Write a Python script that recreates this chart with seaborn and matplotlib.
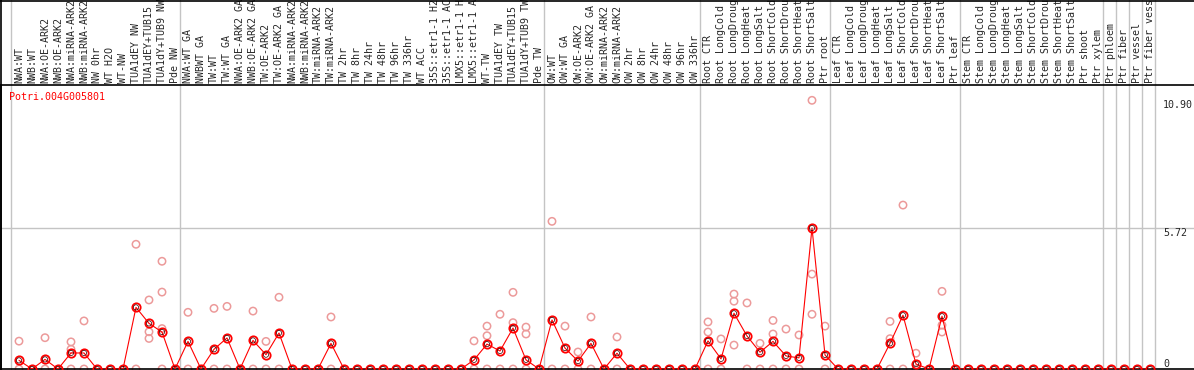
import seaborn as sns
import matplotlib.pyplot as plt
import matplotlib.lines as mlines
import matplotlib.transforms as mtransforms
import pandas as pd
import numpy as np

# sample labels as shown (cut to 14 characters like the source page)
labels = [
    'NWA:WT', 'NWB:WT', 'NWA:OE-ARK2', 'NWB:OE-ARK2', 'NWA:miRNA-ARK2', 'NWB:miRNA-ARK2',
    'NW 0hr', 'WT H2O', 'WT-NW', 'TUA1dEY NW', 'TUA1dEY+TUB15', 'TUA1dY+TUB9 NW', 'Pde NW',
    'NWA:WT GA', 'NWBWT GA', 'TW:WT', 'TW:WT GA', 'NWA:OE-ARK2 GA', 'NWB:OE-ARK2 GA',
    'TW:OE-ARK2', 'TW:OE-ARK2 GA', 'NWA:miRNA-ARK2', 'NWB:miRNA-ARK2', 'TW:miRNA-ARK2',
    'TW:miRNA-ARK2', 'TW 2hr', 'TW 8hr', 'TW 24hr', 'TW 48hr', 'TW 96hr', 'TW 336hr',
    'WT ACC', '35S::etr1-1 H2', '35S::etr1-1 AC', 'LMX5::etr1-1 H', 'LMX5::etr1-1 A',
    'WT-TW', 'TUA1dEY TW', 'TUA1dEY+TUB15', 'TUA1dY+TUB9 TW', 'Pde TW',
    'OW:WT', 'OW:WT GA', 'OW:OE-ARK2', 'OW:OE-ARK2 GA', 'OW:miRNA-ARK2', 'OW:miRNA-ARK2',
    'OW 2hr', 'OW 8hr', 'OW 24hr', 'OW 48hr', 'OW 96hr', 'OW 336hr',
    'Root CTR', 'Root LongCold', 'Root LongDroug', 'Root LongHeat', 'Root LongSalt',
    'Root ShortCold', 'Root ShortDrou', 'Root ShortHeat', 'Root ShortSalt', 'Ptr root',
    'Leaf CTR', 'Leaf LongCold', 'Leaf LongDroug', 'Leaf LongHeat', 'Leaf LongSalt',
    'Leaf ShortCold', 'Leaf ShortDrou', 'Leaf ShortHeat', 'Leaf ShortSalt', 'Ptr leaf',
    'Stem CTR', 'Stem LongCold', 'Stem LongDroug', 'Stem LongHeat', 'Stem LongSalt',
    'Stem ShortCold', 'Stem ShortDrou', 'Stem ShortHeat', 'Stem ShortSalt', 'Ptr shoot',
    'Ptr xylem', 'Ptr phloem', 'Ptr fiber', 'Ptr vessel', 'Ptr fiber vess',
]

# mean expression per sample
means = [
    0.35, 0, 0.39, 0, 0.65, 0.65, 0, 0, 0, 2.50, 1.85, 1.50, 0,
    1.12, 0, 0.80, 1.26, 0, 1.16, 0.58, 1.46, 0, 0, 0, 1.04,
    0, 0, 0, 0, 0, 0, 0, 0, 0, 0,
    0.37, 1.01, 0.73, 1.66, 0.37, 0,
    1.99, 0.85, 0.32, 1.04, 0, 0.64, 0, 0, 0, 0, 0, 0,
    1.14, 0.41, 2.26, 1.34, 0.68, 1.12, 0.53, 0.45, 5.72, 0.57,
    0, 0, 0, 0, 1.04, 2.18, 0.20, 0, 2.14, 0,
    0, 0, 0, 0, 0, 0, 0, 0, 0, 0, 0,
    0, 0, 0, 0,
]

# replicate values (sample index -> values)
replicates = {
    0: [1.13, 0], 2: [1.27, 0], 4: [1.10, 0.80, 0], 5: [1.95, 0],
    9: [5.06, 0], 10: [2.80, 1.51, 1.24], 11: [4.37, 3.12, 1.64, 0],
    13: [2.30, 0], 15: [2.46, 0], 16: [2.54, 0], 18: [2.35, 0], 19: [1.12, 0],
    20: [2.91, 0], 24: [2.11, 0], 35: [1.14, 0], 36: [1.74, 1.35, 0],
    37: [2.22, 0], 38: [3.11, 1.88, 0], 39: [1.70, 1.42, 0],
    41: [5.99, 0], 42: [1.74, 0], 43: [0.69, 0], 44: [2.11, 0], 46: [1.30, 0],
    53: [1.91, 1.50, 0], 54: [1.22, 0], 55: [3.04, 2.75, 0.97], 56: [2.68, 0],
    57: [1.04, 0], 58: [1.97, 1.42, 0], 59: [1.62, 0], 60: [1.38, 0],
    61: [10.90, 3.85, 2.22], 62: [1.74, 0],
    67: [1.93, 1.23, 0], 68: [6.65, 0], 69: [0.64, 0], 71: [3.15, 1.78, 1.50],
}

# group separators sit right after these sample indices
separators = [-1, 12, 40, 52, 62, 72, 83, 84, 85, 86, 87]
gene = 'Potri.004G005801'
ytick_vals = [10.90, 5.72, 0]

mean_df = pd.DataFrame({'sample': np.arange(len(means)), 'value': means})
rep_df = pd.DataFrame(
    [(i, v) for i, vals in replicates.items() for v in vals],
    columns=['sample', 'value'],
)

sns.set_style('white')
plt.rcParams['font.family'] = ['DejaVu Sans Mono']

W, H = 1194, 370
fig = plt.figure(figsize=(W / 100, H / 100), dpi=100)
ax_left, ax_right, ax_top, ax_bot = 1, 1194, 85, 369
ax = fig.add_axes([ax_left / W, 1 - ax_bot / H, (ax_right - ax_left) / W, (ax_bot - ax_top) / H])

px_per_col = 13
x0 = -(19 - ax_left) / px_per_col
ax.set_xlim(x0, x0 + (ax_right - ax_left) / px_per_col)
px_per_unit = (369 - 228) / 5.72
ax.set_ylim(0, (ax_bot - ax_top) / px_per_unit)

# separators through plot and label area
ext = ax_bot / (ax_bot - ax_top)
for s in separators:
    ax.axvline(s + 0.35, ymin=0, ymax=ext, color='#c4c4c4', lw=1, clip_on=False, zorder=0)
ax.axhline(5.72, color='#c4c4c4', lw=1, zorder=0)

sns.scatterplot(data=rep_df, x='sample', y='value', ax=ax, marker='o',
                facecolors='none', edgecolor='#ec9a9a', linewidth=1.1, s=28,
                zorder=2, clip_on=False)
sns.lineplot(data=mean_df, x='sample', y='value', ax=ax, color='#ff0000', lw=0.8,
             marker='o', markersize=6, markerfacecolor='none',
             markeredgecolor='#ff0000', markeredgewidth=1.3, zorder=3)
sns.scatterplot(data=mean_df, x='sample', y='value', ax=ax, marker='o',
                facecolors='none', edgecolor='#300000', linewidth=0.5, s=14, zorder=4)

ax.set_xlabel('')
ax.set_ylabel('')
ax.set_xticks([])
ax.set_yticks([])
for side in ['left', 'top', 'bottom']:
    ax.spines[side].set_color('black')
    ax.spines[side].set_linewidth(1.2)
ax.spines['right'].set_visible(False)

# rotated sample labels above the plot
trans = mtransforms.blended_transform_factory(ax.transData, ax.transAxes)
for i, lab in enumerate(labels):
    ax.text(i, 1 + 2 / (ax_bot - ax_top), lab, rotation=90, ha='center', va='bottom',
            fontsize=7.2, transform=trans, clip_on=False)

# value labels on the right
ytrans = mtransforms.blended_transform_factory(ax.transAxes, ax.transData)
for v in ytick_vals:
    ax.text(0.974, v, f'{v:.2f}' if v else '0', transform=ytrans,
            ha='left', va='bottom' if v == 0 else 'top', fontsize=7.2)

ax.text(8 / (ax_right - ax_left), 1 - 12 / (ax_bot - ax_top), gene, color='red',
        fontsize=7.2, transform=ax.transAxes, ha='left', va='center')

# frame around the label area
fig.add_artist(mlines.Line2D([0.5 / W, 0.5 / W], [0, 1], color='black', lw=1.2, transform=fig.transFigure))
fig.add_artist(mlines.Line2D([0, 1], [1 - 0.5 / H, 1 - 0.5 / H], color='black', lw=1.2, transform=fig.transFigure))

fig.savefig('out.png', dpi=100, facecolor='white')
